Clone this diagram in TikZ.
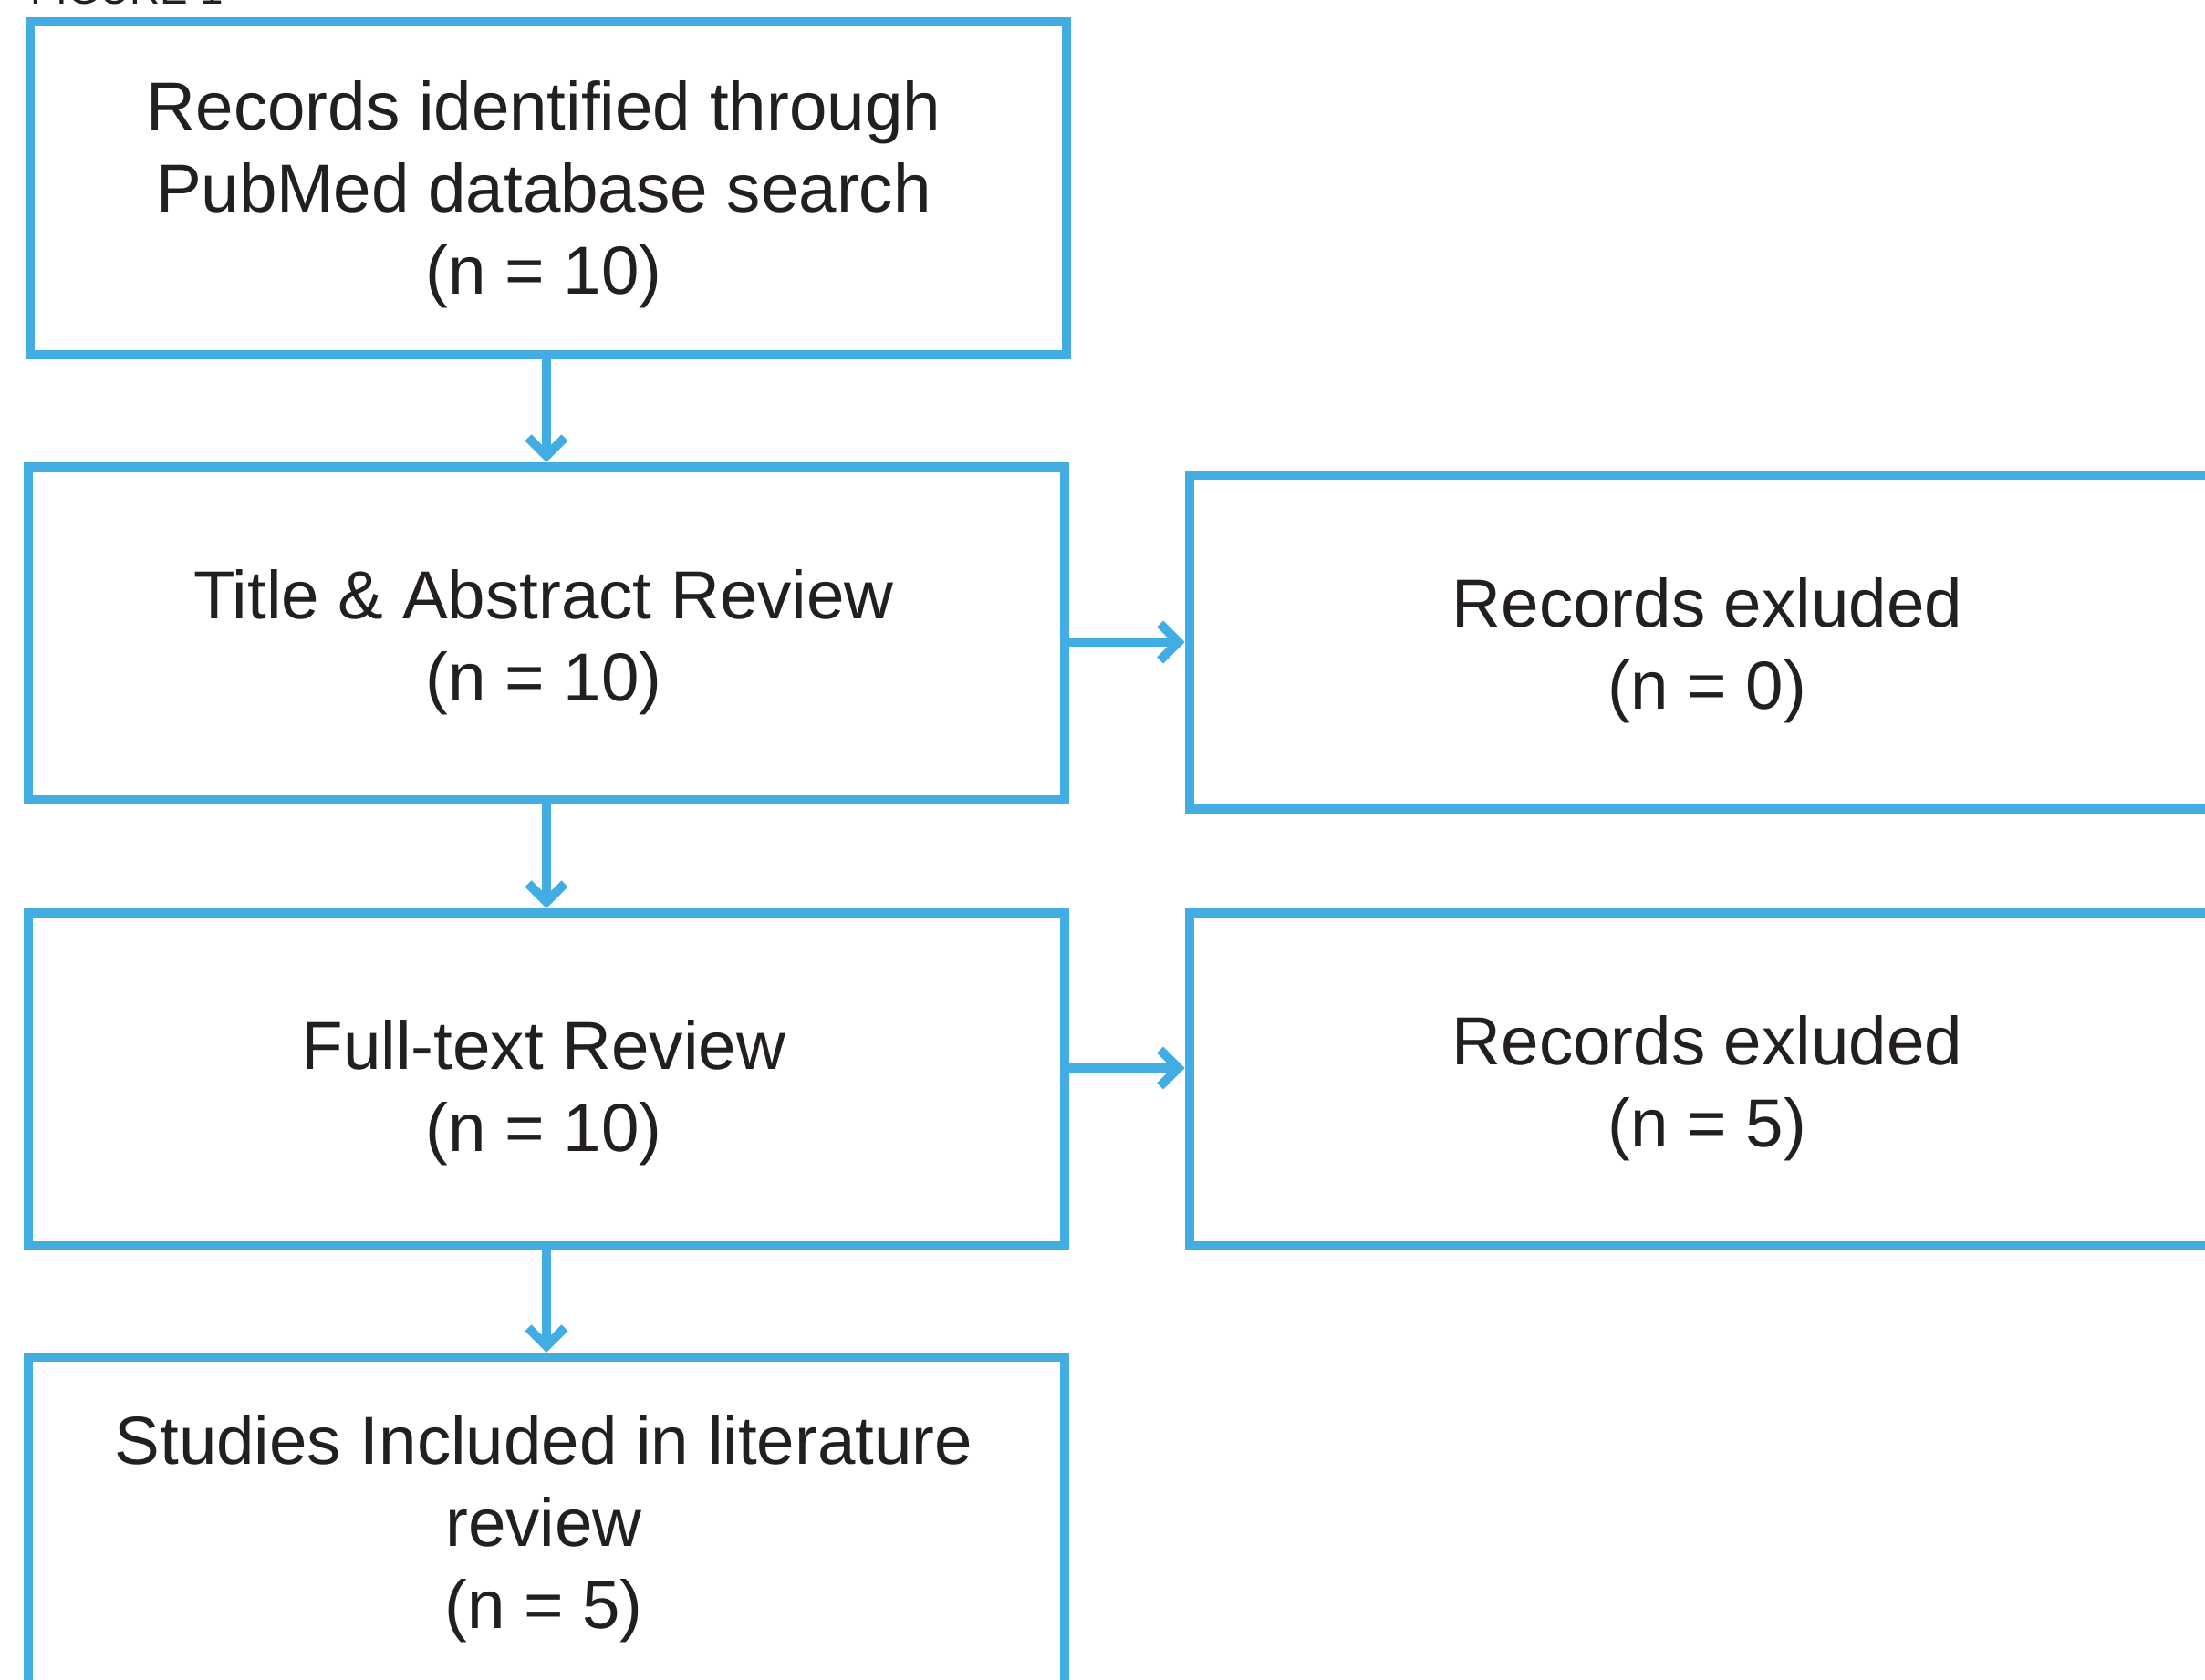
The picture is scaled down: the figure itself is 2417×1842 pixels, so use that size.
\documentclass[tikz,border=0pt]{standalone}
\usepackage{fontspec}
\setmainfont{Liberation Sans}
\usetikzlibrary{arrows.meta}
\definecolor{flowblue}{RGB}{65,173,226}
\definecolor{inktext}{RGB}{35,31,32}
\begin{document}
\begin{tikzpicture}[x=0.01cm,y=-0.01cm,
  box/.style={draw=flowblue, line width=0.1cm, rectangle, minimum width=11.36cm, minimum height=3.65cm, inner sep=0pt},
  txt/.style={text=inktext, align=center, inner sep=0pt, font=\fontsize{21.2}{25.6}\selectfont},
  arr/.style={draw=flowblue, line width=0.1cm, -{Straight Barb[length=0.2cm,width=0.4cm,sharp]}}]
\useasboundingbox (0,0) rectangle (2417,1842);
\clip (0,0) rectangle (2417,1842);
\node[txt, anchor=base west, font=\fontsize{13}{15}\selectfont] (fig) at (33,4) {FIGURE 1};
% boxes
\node[box, minimum width=11.355cm, minimum height=3.645cm] (b1) at (601.25,206.75) {};
\node[box] (b2) at (599,694.5) {};
\node[box] (b3) at (1872,704) {};
\node[box] (b4) at (599,1183.5) {};
\node[box] (b5) at (1872,1183.5) {};
\node[box] (b6) at (599,1670.5) {};
% texts
\node[txt] (t1) at (596,213.5) {Records identified through\\PubMed database search\\(n = 10)};
\node[txt] (t2) at (596,704) {Title \& Abstract Review\\(n = 10)};
\node[txt] (t3) at (1871.5,713) {Records exluded\\(n = 0)};
\node[txt] (t4) at (596,1198) {Full-text Review\\(n = 10)};
\node[txt] (t5) at (1871.5,1193) {Records exluded\\(n = 5)};
\node[txt] (t6) at (596,1676) {Studies Included in literature\\review\\(n = 5)};
% connectors
\draw[arr] (b2.north |- b1.south) -- (b2.north);
\draw[arr] (b2.east |- b3.west) -- (b3.west);
\draw[arr] (b2) -- (b4);
\draw[arr] ([yshift=0.125cm]b4.east) -- ([yshift=0.125cm]b5.west);
\draw[arr] (b4) -- (b6);
\end{tikzpicture}
\end{document}
